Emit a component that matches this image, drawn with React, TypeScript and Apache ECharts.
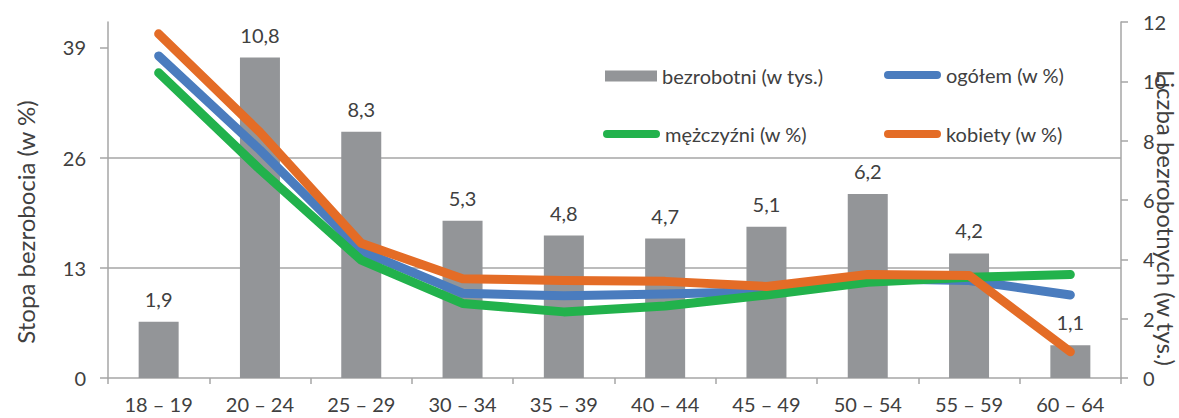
import React, { useEffect, useRef } from "react";
import * as echarts from "echarts";

const categories = ["18 – 19", "20 – 24", "25 – 29", "30 – 34", "35 – 39", "40 – 44", "45 – 49", "50 – 54", "55 – 59", "60 – 64"];
const bezrobotni = [1.9, 10.8, 8.3, 5.3, 4.8, 4.7, 5.1, 6.2, 4.2, 1.1];
const ogolem = [38.0, 26.9, 15.0, 10.0, 9.7, 9.9, 10.2, 11.7, 11.5, 9.8];
const mezczyzni = [36.0, 24.6, 13.9, 8.8, 7.8, 8.5, 9.8, 11.3, 11.9, 12.2];
const kobiety = [40.6, 29.0, 15.9, 11.7, 11.5, 11.4, 10.8, 12.2, 12.1, 3.1];
const leftTicks = [0, 13, 26, 39];

const FONT = "Lato";
const TXT = "#404040";
const AX = "#A6A6A6";
const GRAY = "#939598";
const BLUE = "#4A7CBE";
const GREEN = "#22B24C";
const ORANGE = "#E46C26";
const pill = "path://M4,0 L53,0 A4,4 0 0 1 53,8 L4,8 A4,4 0 0 1 4,0 Z";

export default function App() {
  const ref = useRef<HTMLDivElement>(null);
  useEffect(() => {
    const chart = echarts.init(ref.current!, null, { renderer: "svg" });
    const legendText = { fontFamily: FONT, fontSize: 20, color: TXT };
    const mkLegend = (name: string, left: number, top: number, icon: string, w: number, h: number) => ({
      data: [{ name, icon }],
      left,
      top,
      itemWidth: w,
      itemHeight: h,
      itemGap: 0,
      padding: 0,
      selectedMode: false,
      textStyle: legendText,
      itemStyle: { borderWidth: 0 },
    });
    const lineSeries = (name: string, data: number[], color: string, z: number) => ({
      name,
      type: "line",
      data,
      yAxisIndex: 0,
      symbol: "none",
      z,
      itemStyle: { color },
      lineStyle: { color, width: 9, cap: "round", join: "round" },
    });
    chart.setOption({
      animation: false,
      textStyle: { fontFamily: FONT },
      grid: { left: 108, right: 58, top: 22, bottom: 40, containLabel: false },
      legend: [
        mkLegend("bezrobotni (w tys.)", 605, 66, "rect", 52, 11),
        mkLegend("ogółem (w %)", 884, 65, pill, 57, 8),
        mkLegend("mężczyźni (w %)", 603, 124, pill, 57, 8),
        mkLegend("kobiety (w %)", 884, 124, pill, 57, 8),
      ],
      xAxis: {
        type: "category",
        data: categories,
        axisLine: { lineStyle: { color: AX, width: 1.5 } },
        axisTick: { show: true, length: 6, lineStyle: { color: AX, width: 1.5 } },
        axisLabel: { color: TXT, fontFamily: FONT, fontSize: 20, margin: 16 },
      },
      yAxis: [
        {
          type: "value",
          min: 0,
          max: 42,
          interval: 13,
          position: "left",
          axisLine: { show: true, lineStyle: { color: AX, width: 1.5 } },
          axisTick: { show: true, length: 8, customValues: leftTicks, lineStyle: { color: AX, width: 1.5 } },
          axisLabel: { color: TXT, fontFamily: FONT, fontSize: 20, margin: 22, customValues: leftTicks },
          splitLine: { show: true, showMaxLine: false, showMinLine: false, lineStyle: { color: AX, width: 1.5 } },
        },
        {
          type: "value",
          min: 0,
          max: 12,
          interval: 2,
          position: "right",
          axisLine: { show: true, lineStyle: { color: AX, width: 1.5 } },
          axisTick: { show: true, length: 7, lineStyle: { color: AX, width: 1.5 } },
          axisLabel: { color: TXT, fontFamily: FONT, fontSize: 20, margin: 22 },
          splitLine: { show: false },
        },
      ],
      graphic: [
        {
          type: "text",
          x: 25,
          y: 222,
          rotation: Math.PI / 2,
          style: { text: "Stopa bezrobocia (w %)", font: `24px ${FONT}`, fill: TXT, textAlign: "center", textVerticalAlign: "middle" },
        },
        {
          type: "text",
          x: 1166,
          y: 70,
          rotation: -Math.PI / 2,
          z: 100,
          style: { text: "Liczba bezrobotnych (w tys.)", font: `24px ${FONT}`, fill: TXT, textAlign: "left", textVerticalAlign: "middle" },
        },
      ],
      series: [
        {
          name: "bezrobotni (w tys.)",
          type: "bar",
          yAxisIndex: 1,
          data: bezrobotni,
          barWidth: 40,
          itemStyle: { color: GRAY },
          label: {
            show: true,
            position: "top",
            distance: 13,
            color: TXT,
            fontFamily: FONT,
            fontSize: 20,
            formatter: (p: any) => String(p.value).replace(".", ","),
          },
        },
        lineSeries("ogółem (w %)", ogolem, BLUE, 3),
        lineSeries("mężczyźni (w %)", mezczyzni, GREEN, 4),
        lineSeries("kobiety (w %)", kobiety, ORANGE, 5),
      ],
    });
    return () => chart.dispose();
  }, []);
  return <div ref={ref} style={{ width: 1179, height: 418, position: "absolute", left: 0, top: 0 }} />;
}
